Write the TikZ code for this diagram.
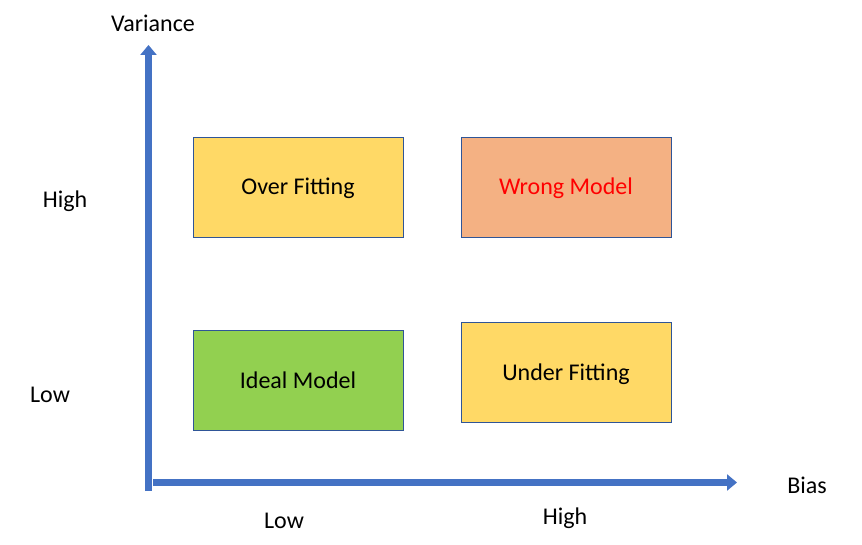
\documentclass[tikz,border=0pt]{standalone}
\usepackage{fontspec}
\setmainfont{Carlito}
\usetikzlibrary{arrows.meta}

\definecolor{axisblue}{HTML}{4472C4}
\definecolor{edgeblue}{HTML}{2F5597}
\definecolor{fityellow}{HTML}{FFD966}
\definecolor{wrongorange}{HTML}{F4B183}
\definecolor{idealgreen}{HTML}{92D050}

\tikzset{
    axis/.style={draw=axisblue, line width=7.5pt, -{Triangle[length=10pt,width=16pt]}},
    quad/.style={draw=edgeblue, line width=0.8pt, minimum width=210pt, minimum height=100pt},
    lbl/.style={font=\fontsize{24}{28}\selectfont, text height=18pt, text depth=2pt}
}

\begin{document}
\begin{tikzpicture}[x=1pt,y=-1pt]
    \useasboundingbox (0,0) rectangle (862,545);

    % axes
    \coordinate (ybot) at (148.5,491);
    \coordinate (ytop) at (148.5,45);
    \coordinate (xleft) at (153,482.5);
    \coordinate (xright) at (737,482.5);
    \draw[axis] (ybot) -- (ytop);
    \draw[axis] (xleft) -- (xright);

    % axis labels
    \node[lbl] (variance) at (153,24) {Variance};
    \node[lbl] (bias) at (807,485) {Bias};
    \node[lbl] (vhigh) at (65,200) {High};
    \node[lbl] (vlow) at (50,394) {Low};
    \node[lbl] (blow) at (284,520) {Low};
    \node[lbl] (bhigh) at (565,516) {High};

    % quadrants
    \node[quad, lbl, fill=fityellow] (over) at (298,187) {Over Fitting};
    \node[quad, lbl, fill=wrongorange, text=red] (wrong) at (566,187) {Wrong Model};
    \node[quad, lbl, fill=idealgreen] (ideal) at (298,380) {Ideal Model};
    \node[quad, lbl, fill=fityellow] (under) at (566,372) {Under Fitting};
\end{tikzpicture}
\end{document}
